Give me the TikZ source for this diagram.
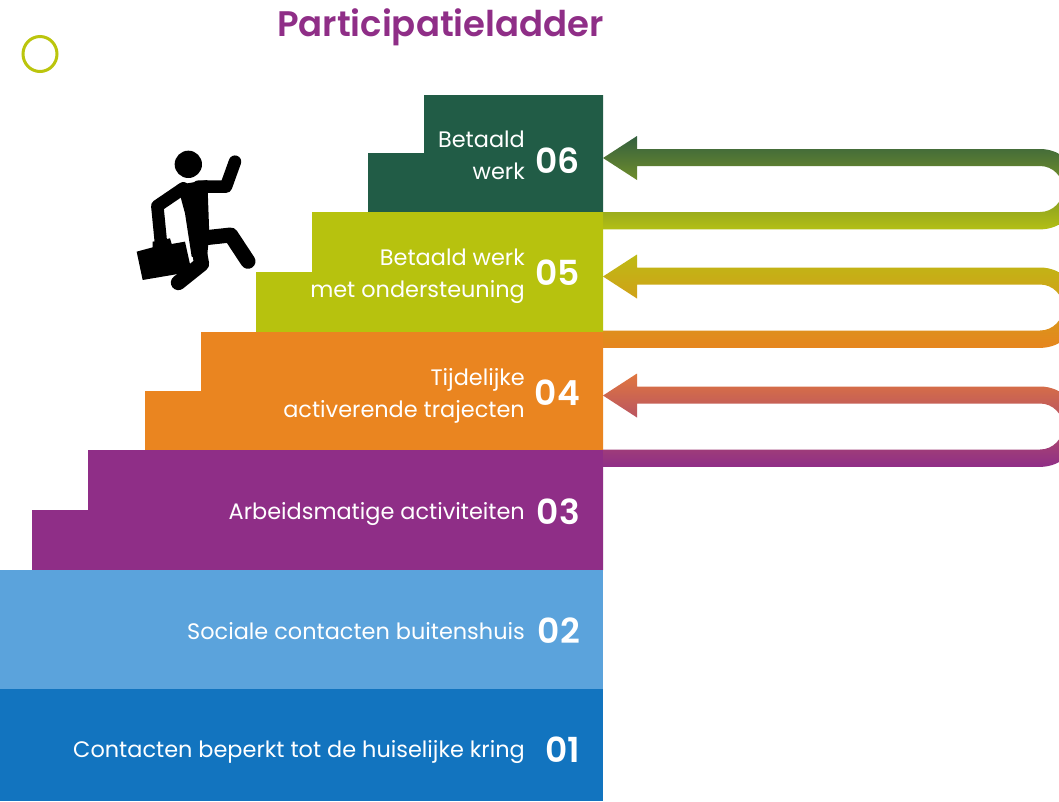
\documentclass[tikz,border=0pt]{standalone}
\usepackage{fontspec}
\setmainfont{Poppins}
\newfontfamily\semif{Poppins SemiBold}
\definecolor{cA}{HTML}{1274BF}
\definecolor{cB}{HTML}{5BA3DC}
\definecolor{cC}{HTML}{8F2E87}
\definecolor{cD}{HTML}{EA8520}
\definecolor{cE}{HTML}{B7C20E}
\definecolor{cF}{HTML}{215C46}
\definecolor{aT}{HTML}{33603F}
\definecolor{aB}{HTML}{B3BF14}
\definecolor{bT}{HTML}{BDBA14}
\definecolor{bB}{HTML}{E6851E}
\definecolor{dT}{HTML}{E0773F}
\definecolor{dB}{HTML}{8F2E87}
\tikzset{
  lab/.style={anchor=east,text=white,align=right,font=\fontsize{22.4}{32}\selectfont,inner sep=0pt},
  num/.style={anchor=east,text=white,font=\fontsize{34.5}{36}\selectfont\semif,inner sep=0pt},
  limb/.style={line width=12.5pt,line join=round,line cap=round,black},
  legp/.style={line width=15pt,line join=round,line cap=round,black},
}
\newcommand{\uarrow}[3]{%
  \shade[top color=#2,bottom color=#3]
    (603,#1+9) -- (637,#1-13) -- (637,#1) -- (1040,#1)
    arc[start angle=-90,end angle=90,radius=40.2]
    -- (603,#1+80.4) -- (603,#1+63) -- (1040,#1+63)
    arc[start angle=90,end angle=-90,radius=23]
    -- (637,#1+17) -- (637,#1+31) -- cycle;
}
\begin{document}
\begin{tikzpicture}[x=1pt,y=-1pt]
\useasboundingbox (0,0) rectangle (1059,801);
\clip (0,0) rectangle (1059,801);
\fill[white] (0,0) rectangle (1059,801);
% steps
\fill[cF] (424,95) -- (603,95) -- (603,212) -- (368,212) -- (368,153) -- (424,153) -- cycle;
\fill[cE] (312,212) -- (603,212) -- (603,332) -- (256,332) -- (256,272) -- (312,272) -- cycle;
\fill[cD] (201,332) -- (603,332) -- (603,450) -- (145,450) -- (145,391) -- (201,391) -- cycle;
\fill[cC] (88,450) -- (603,450) -- (603,570) -- (32,570) -- (32,510) -- (88,510) -- cycle;
\fill[cB] (0,570) rectangle (603,689);
\fill[cA] (0,689) rectangle (603,801);
% arrows
\uarrow{149}{aT}{aB}
\uarrow{267.5}{bT}{bB}
\uarrow{386.5}{dT}{dB}
% circle
\draw[cE!95!yellow,line width=3pt] (40,54) ellipse [x radius=17,y radius=17.5];
% title
\node[anchor=center,text=cC,inner sep=0pt,font=\fontsize{35.5}{36}\selectfont\semif] (title) at (440.5,27.5) {Participatieladder};
% labels
\node[lab] (l6) at (525,155) {Betaald\\werk};
\node[lab] (l5) at (525,276) {Betaald werk\\met ondersteuning};
\node[lab] (l4) at (525,395.5) {Tijdelijke\\activerende trajecten};
\node[lab] (l3) at (525,513.5) {Arbeidsmatige activiteiten};
\node[lab] (l2) at (525,631) {Sociale contacten buitenshuis};
\node[lab] (l1) at (525,751.5) {Contacten beperkt tot de huiselijke kring};
\node[num] (n6) at (580,161) {06};
\node[num] (n5) at (580,273) {05};
\node[num] (n4) at (580,393) {04};
\node[num] (n3) at (580,512) {03};
\node[num] (n2) at (580,631) {02};
\node[num] (n1) at (580,750) {01};
% figure
\begin{scope}[shift={(120,130)},x=0.3333pt,y=-0.3333pt]
\fill[black] (205,103) circle[radius=41];
\draw[limb] (345,95) -- (318,170) -- (235,170);
\draw[limb] (190,175) -- (112,228) -- (122,330);
\fill[black] (172,165) -- (262,150) -- (268,315) -- (260,390) -- (215,380) -- (195,250) -- cycle;
\draw[legp] (240,325) -- (332,315) -- (384,394);
\draw[legp] (232,330) -- (245,402) -- (175,458);
\fill[black] (50,365) -- (98,352) -- (98,335) -- (150,325) -- (155,342) -- (195,335) -- (215,425) -- (68,450) -- cycle;
\end{scope}
\end{tikzpicture}
\end{document}
